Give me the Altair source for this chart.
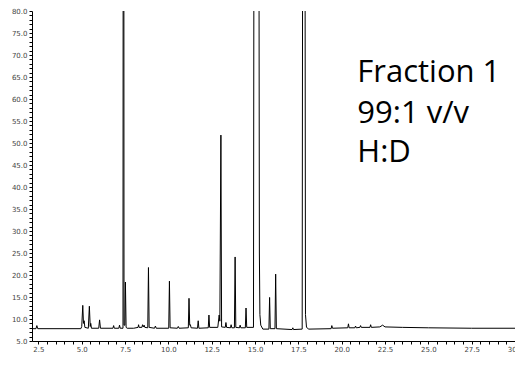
import altair as alt
import pandas as pd

# Retention time (min) and detector signal
rt = [2.13, 2.36, 2.41, 2.46,
      4.95, 5.00, 5.06, 5.10, 5.14, 5.18,
      5.38, 5.44, 5.49, 5.52, 5.56,
      5.98, 6.03, 6.08,
      6.80, 6.84, 6.88,
      7.14, 7.18, 7.22,
      7.38, 7.41, 7.44, 7.49, 7.52, 7.56, 7.62,
      8.00, 8.25, 8.28, 8.31, 8.47, 8.51, 8.55, 8.60, 8.64,
      8.81, 8.85, 8.89,
      9.20, 9.25, 9.30,
      10.02, 10.06, 10.10,
      10.52, 10.57, 10.62,
      11.15, 11.19, 11.23, 11.27, 11.31,
      11.68, 11.72, 11.76,
      12.30, 12.34, 12.38,
      12.85, 12.93, 12.97, 13.03, 13.07,
      13.28, 13.32, 13.36,
      13.58, 13.62, 13.66,
      13.81, 13.85, 13.89,
      14.10, 14.14, 14.18,
      14.44, 14.48, 14.52,
      14.91, 14.95, 15.21, 15.25, 15.28, 15.33, 15.45,
      15.80, 15.84, 15.88,
      16.15, 16.19, 16.23,
      17.14, 17.18, 17.22,
      17.72, 17.76, 17.87, 17.91, 17.97, 18.10,
      19.39, 19.43, 19.47,
      20.35, 20.39, 20.43,
      20.76, 20.80, 20.84,
      21.05, 21.09, 21.13,
      21.63, 21.67, 21.71,
      22.20, 22.36, 22.50,
      23.50, 25.00, 27.50, 30.00]
signal = [7.8, 7.8, 8.5, 7.8,
          7.8, 8.3, 13.1, 9.0, 9.6, 8.1,
          7.9, 12.9, 8.3, 9.0, 7.9,
          7.9, 9.8, 7.9,
          7.9, 8.5, 7.9,
          7.9, 8.6, 7.9,
          7.9, 300.0, 8.6, 8.6, 18.4, 8.1, 7.9,
          7.9, 8.1, 8.7, 8.1, 8.1, 8.7, 8.2, 8.6, 8.1,
          8.0, 21.7, 8.1,
          7.9, 8.4, 7.9,
          7.9, 18.6, 8.0,
          7.9, 8.3, 7.9,
          8.0, 14.7, 8.6, 8.7, 8.0,
          7.9, 9.6, 7.9,
          8.0, 10.9, 8.1,
          8.1, 10.9, 9.5, 51.8, 8.2,
          8.1, 9.2, 8.1,
          8.0, 8.7, 8.0,
          8.0, 24.1, 8.1,
          8.0, 8.6, 8.0,
          8.0, 12.5, 8.1,
          8.1, 150.0, 150.0, 25.0, 11.0, 8.6, 7.7,
          7.7, 14.9, 7.8,
          7.8, 20.2, 7.8,
          7.6, 8.0, 7.6,
          7.7, 150.0, 150.0, 11.0, 8.1, 7.7,
          7.8, 8.5, 7.9,
          8.0, 8.9, 8.0,
          8.0, 8.4, 8.0,
          8.1, 8.5, 8.1,
          8.1, 8.7, 8.1,
          8.2, 8.6, 8.2,
          8.1, 8.0, 7.9, 7.9]

x_ticks = [2.5, 3.0, 3.5, 4.0, 4.5, 5.0, 5.5, 6.0, 6.5, 7.0, 7.5, 8.0, 8.5, 9.0, 9.5,
           10.0, 10.5, 11.0, 11.5, 12.0, 12.5, 13.0, 13.5, 14.0, 14.5, 15.0, 15.5,
           16.0, 16.5, 17.0, 17.5, 18.0, 18.5, 19.0, 19.5, 20.0, 20.5, 21.0, 21.5,
           22.0, 22.5, 23.0, 23.5, 24.0, 24.5, 25.0, 25.5, 26.0, 26.5, 27.0, 27.5,
           28.0, 28.5, 29.0, 29.5, 30.0]
x_labels = [2.5, 5.0, 7.5, 10.0, 12.5, 15.0, 17.5, 20.0, 22.5, 25.0, 27.5, 30.0]
y_ticks = [5, 6, 7, 8, 9, 10, 11, 12, 13, 14, 15, 16, 17, 18, 19, 20, 21, 22, 23, 24,
           25, 26, 27, 28, 29, 30, 31, 32, 33, 34, 35, 36, 37, 38, 39, 40, 41, 42, 43,
           44, 45, 46, 47, 48, 49, 50, 51, 52, 53, 54, 55, 56, 57, 58, 59, 60, 61, 62,
           63, 64, 65, 66, 67, 68, 69, 70, 71, 72, 73, 74, 75, 76, 77, 78, 79, 80]
y_labels = [5, 10, 15, 20, 25, 30, 35, 40, 45, 50, 55, 60, 65, 70, 75, 80]

note_lines = ["Fraction 1", "99:1 v/v", "H:D"]
note_rt = [20.9, 20.9, 20.9]
note_signal = [63.9, 54.5, 45.7]

df = pd.DataFrame({"rt": rt, "signal": signal})
notes = pd.DataFrame({"rt": note_rt, "signal": note_signal, "text": note_lines})

x_label_expr = "indexof([" + ",".join(str(v) for v in x_labels) + "], datum.value) >= 0 ? format(datum.value, '.1f') : ''"
y_label_expr = "indexof([" + ",".join(str(v) for v in y_labels) + "], datum.value) >= 0 ? format(datum.value, '.1f') : ''"

x_scale = alt.Scale(domain=[2.13, 30], nice=False, zero=False)
y_scale = alt.Scale(domain=[5, 80], nice=False, zero=False)

x_axis = alt.Axis(values=x_ticks, tickCount=200, labelExpr=x_label_expr, labelOverlap=False,
                  labelFlush=False, grid=False, labelPadding=1)
y_axis = alt.Axis(values=y_ticks, tickCount=200, labelExpr=y_label_expr, labelOverlap=False,
                  labelFlush=False, grid=False, labelPadding=2)

line = alt.Chart(df).mark_line(color="black", strokeWidth=1, clip=True).encode(
    x=alt.X("rt:Q", scale=x_scale, title=None, axis=x_axis),
    y=alt.Y("signal:Q", scale=y_scale, title=None, axis=y_axis),
)

text = alt.Chart(notes).mark_text(align="left", baseline="alphabetic", font="Open Sans",
                                  fontSize=31, color="black").encode(
    x=alt.X("rt:Q", scale=x_scale, title=None, axis=x_axis),
    y=alt.Y("signal:Q", scale=y_scale, title=None, axis=y_axis),
    text="text:N",
)

chart = alt.layer(line, text).properties(
    width=483, height=330,
    autosize=alt.AutoSizeParams(type="none"),
    padding={"left": 24, "top": 3, "right": 0, "bottom": 13},
).configure_view(stroke=None).configure_axis(
    domainColor="black", domainWidth=1, tickColor="black", tickSize=3, tickWidth=1,
    labelColor="#444444", labelFontSize=7, labelFont="DejaVu Sans",
)

chart.save("out.html", embed_options={"renderer": "svg", "actions": False})
